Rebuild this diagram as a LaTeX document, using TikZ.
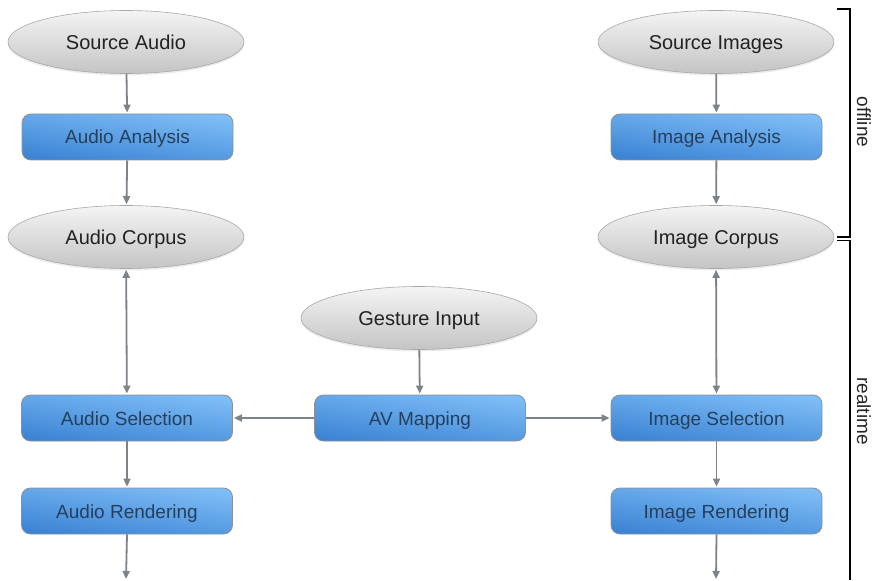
\documentclass[tikz,border=0pt]{standalone}
\usepackage{fontspec}
\setmainfont{Liberation Sans}
\usetikzlibrary{shapes.geometric,arrows.meta,shadows}
\definecolor{arr}{HTML}{7D8388}
\definecolor{ellbord}{HTML}{A8A8A8}
\definecolor{boxbord}{HTML}{8C9096}
\definecolor{boxtext}{HTML}{253F5C}
\definecolor{elltext}{HTML}{222222}
\definecolor{bluetop}{HTML}{7EBDF6}
\definecolor{bluebot}{HTML}{3C84D4}
\definecolor{graytop}{HTML}{F4F4F4}
\definecolor{graybot}{HTML}{C4C4C4}
\tikzset{
  ell/.style={ellipse, draw=ellbord, line width=0.6pt, minimum width=236pt, minimum height=63pt, inner sep=0pt,
    top color=graytop, bottom color=graybot, text=elltext,
    font=\fontsize{20}{24}\selectfont, text height=14.5pt, text depth=0pt,
    drop shadow={shadow xshift=0pt, shadow yshift=-2pt, opacity=0.15}},
  proc/.style={rectangle, rounded corners=9pt, draw=boxbord, line width=0.8pt, minimum width=211pt, minimum height=46pt, inner sep=0pt,
    top color=bluetop, bottom color=bluebot, shading angle=-8, text=boxtext,
    font=\fontsize{19}{23}\selectfont, text height=14pt, text depth=0pt},
  conn/.style={draw=arr, line width=1.8pt, -{Triangle[length=8pt,width=7pt]}, shorten >=1pt},
  bconn/.style={draw=arr, line width=1.8pt, {Triangle[length=8pt,width=7pt]}-{Triangle[length=8pt,width=7pt]}, shorten >=1pt, shorten <=1pt},
  brk/.style={draw=black, line width=1.8pt},
  side/.style={font=\fontsize{19}{23}\selectfont, text=black!85, rotate=-90}
}
\begin{document}
\begin{tikzpicture}[x=1pt,y=-1pt]
\useasboundingbox (0,0) rectangle (874,580);
% nodes
\node[ell] (sa) at (126,42) {Source Audio};
\node[proc] (aa) at (127.5,137) {Audio Analysis};
\node[ell] (ac) at (126,237) {Audio Corpus};
\node[proc] (as) at (127,418) {Audio Selection};
\node[proc] (ar) at (127,511) {Audio Rendering};
\node[ell] (si) at (716,42) {Source Images};
\node[proc] (ia) at (716.5,137) {Image Analysis};
\node[ell] (ic) at (716,237) {Image Corpus};
\node[proc] (is) at (716.5,418) {Image Selection};
\node[proc] (ir) at (716.5,511) {Image Rendering};
\node[ell] (gi) at (419,318) {Gesture Input};
\node[proc] (av) at (420,418) {AV Mapping};
\coordinate (aend) at (126,580);
\coordinate (iend) at (716,580);
% connectors
\draw[conn] (sa) -- (aa);
\draw[conn] (aa) -- (ac);
\draw[bconn] (ac) -- (as);
\draw[conn] (as) -- (ar);
\draw[conn] (ar.south) -- (aend);
\draw[conn] (si) -- (ia);
\draw[conn] (ia) -- (ic);
\draw[bconn] (ic) -- (is);
\draw[conn] (is) -- (ir);
\draw[conn] (ir.south) -- (iend);
\draw[conn] (gi) -- (av);
\draw[conn] (av) -- (as);
\draw[conn] (av) -- (is);
% brackets
\coordinate (o1) at (837,9);
\coordinate (o2) at (850,9);
\coordinate (o3) at (850,237);
\coordinate (o4) at (837,237);
\coordinate (r1) at (837,240.5);
\coordinate (r2) at (850,240.5);
\coordinate (r3) at (850,580);
\draw[brk] (o1) -- (o2) -- (o3) -- (o4);
\draw[brk] (r1) -- (r2) -- (r3);
\node[side] (off) at (864,122) {offline};
\node[side] (rt) at (864,411) {realtime};
\end{tikzpicture}
\end{document}
